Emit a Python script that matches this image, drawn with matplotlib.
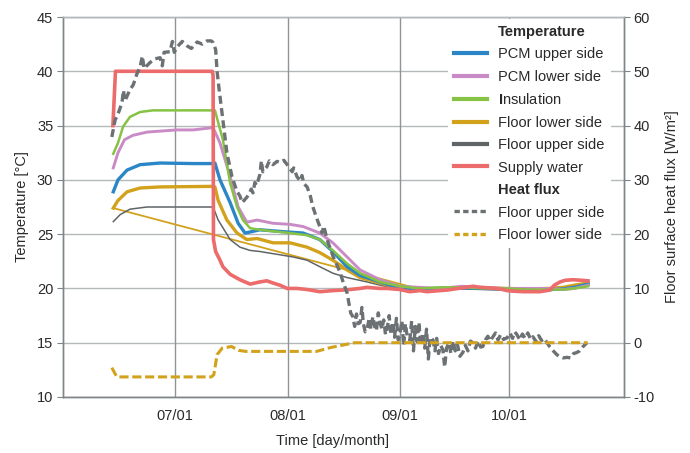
import matplotlib
matplotlib.use('Agg')
import matplotlib.pyplot as plt
from matplotlib.lines import Line2D

plt.rcParams['font.family'] = ['Liberation Sans', 'DejaVu Sans']
plt.rcParams['mathtext.fontset'] = 'custom'
plt.rcParams['mathtext.bf'] = 'Liberation Sans:bold'
plt.rcParams['mathtext.rm'] = 'Liberation Sans'
plt.rcParams['axes.unicode_minus'] = False

# ---- data (x = days since June 1) ----
month_ticks = [30, 61, 92, 122]
month_labels = ['07/01', '08/01', '09/01', '10/01']

supply_x = [12.9, 13.6, 40.3, 40.5, 40.6, 41.2, 42.4, 43.2, 45.2, 47.9, 50.7, 53.4, 55.3, 57.0,
            58.9, 60.9, 63.6, 66.4, 69.9, 73.5, 76.3, 78.2, 81.0, 82.9, 86.5, 88.4, 92.0, 94.7,
            97.5, 99.4, 101.1, 104.9, 108.0, 112.1, 114.0, 116.8, 119.5, 121.5, 123.1, 126.0,
            128.6, 130.5, 133.3, 134.5, 136.1, 137.5, 139.6, 142.0, 143.8]
supply_t = [35.0, 40.0, 40.0, 39.6, 24.5, 23.4, 22.6, 22.0, 21.3, 20.8, 20.4, 20.6, 20.7, 20.5,
            20.3, 20.0, 20.0, 19.9, 19.7, 19.8, 19.85, 19.9, 20.0, 20.1, 20.0, 20.0, 19.9, 19.7,
            19.8, 19.7, 19.75, 19.85, 20.0, 20.2, 20.1, 20.05, 19.95, 19.8, 19.75, 19.7,
            19.7, 19.7, 19.85, 20.3, 20.6, 20.75, 20.8, 20.75, 20.7]

insul_x = [13.0, 14.3, 15.7, 17.6, 20.4, 23.9, 30.0, 40.5, 41.0, 43.2, 45.2, 47.1, 48.7, 50.7,
           53.4, 58.9, 61.7, 66.4, 69.9, 73.5, 77.4, 81.0, 86.5, 92.0, 97.5, 103.0, 109.0,
           115.0, 121.0, 127.0, 133.0, 137.0, 140.0, 143.8]
insul_t = [32.4, 33.4, 34.9, 35.8, 36.25, 36.4, 36.4, 36.4, 36.4, 33.7, 29.7, 27.5, 26.3, 25.55,
           25.4, 25.2, 25.1, 24.9, 24.5, 23.5, 22.3, 21.4, 20.6, 20.2, 20.0, 20.1, 20.1,
           20.0, 20.0, 19.9, 19.9, 19.9, 20.0, 20.2]

pcm_low_x = [13.0, 14.3, 16.1, 18.4, 22.3, 30.5, 35.0, 40.2, 40.5, 42.4, 45.2, 47.4, 49.8, 52.6,
             57.0, 61.7, 65.3, 69.9, 73.5, 77.4, 81.0, 86.5, 92.0, 97.5, 103.0, 109.0, 115.0,
             121.0, 127.0, 133.0, 137.0, 140.0, 143.8]
pcm_low_t = [31.1, 32.5, 33.7, 34.1, 34.4, 34.6, 34.6, 34.8, 34.8, 33.4, 30.3, 27.5, 26.1, 26.3,
             26.0, 25.9, 25.7, 25.1, 24.2, 22.9, 21.7, 20.8, 20.2, 20.1, 20.0, 20.2, 20.1,
             20.0, 20.0, 20.0, 19.9, 20.0, 20.3]

pcm_up_x = [13.0, 14.3, 16.8, 20.4, 25.9, 35.0, 40.5, 41.0, 42.4, 45.2, 47.4, 49.3, 50.7, 53.4,
            60.9, 65.3, 69.9, 73.5, 77.4, 81.0, 86.5, 92.0, 97.5, 103.0, 109.0, 115.0, 121.0,
            127.0, 133.0, 137.0, 140.0, 143.8]
pcm_up_t = [28.9, 30.0, 30.9, 31.4, 31.55, 31.5, 31.5, 31.55, 30.0, 27.9, 26.0, 25.1, 25.2, 25.4,
            25.2, 25.1, 24.5, 23.4, 22.0, 21.2, 20.6, 20.0, 19.95, 20.0, 20.05, 20.0, 19.95,
            19.9, 19.9, 19.95, 20.1, 20.4]

floor_low_x = [13.0, 14.3, 16.8, 20.4, 25.9, 40.5, 41.0, 41.9, 44.3, 47.1, 49.8, 52.6, 57.0,
               61.7, 66.4, 69.9, 73.5, 77.4, 81.0, 86.5, 92.0, 97.5, 103.0, 109.0, 115.0,
               121.0, 127.0, 133.0, 137.0, 140.0, 143.8]
floor_low_t = [27.4, 28.1, 28.9, 29.25, 29.35, 29.4, 29.35, 28.1, 26.3, 25.1, 24.5, 24.6, 24.2,
               24.2, 23.8, 23.3, 22.6, 21.7, 21.0, 20.5, 20.0, 19.9, 19.95, 20.1, 20.05,
               20.0, 19.95, 20.0, 20.1, 20.3, 20.5]
floor_low_link_x = [13.0, 96.7]
floor_low_link_t = [27.4, 20.0]

floor_up_x = [13.0, 14.9, 17.6, 22.3, 27.8, 40.5, 41.9, 45.2, 47.9, 50.7, 53.4, 58.9, 62.5, 66.4,
              69.9, 73.5, 77.4, 82.9, 86.5, 92.0, 97.5, 103.0, 109.0, 115.0, 121.0, 127.0,
              133.0, 137.0, 140.0, 143.8]
floor_up_t = [26.15, 26.8, 27.3, 27.5, 27.5, 27.5, 26.3, 24.5, 23.8, 23.5, 23.4, 23.1, 22.9, 22.6,
              22.0, 21.4, 21.0, 20.6, 20.3, 19.95, 19.8, 19.9, 19.95, 19.9, 19.85, 19.85,
              19.8, 19.9, 20.1, 20.3]

flux_up_x = [12.6, 13.5, 14.5, 15.4, 15.8, 16.2, 17.5, 18.5, 19.5, 20.4, 21.0, 21.5, 23.1, 24.5,
             25.9, 26.5, 27.0, 28.6, 29.3, 29.8, 30.6, 32.0, 33.3, 34.5, 36.1, 37.5, 38.8, 40.0,
             40.5, 41.2, 41.6, 42.1, 43.2, 44.3, 45.7, 47.0, 47.9, 48.5, 49.8, 50.5, 51.0, 51.5,
             52.0, 52.5, 53.4, 53.8, 54.2, 55.3, 56.0, 57.0, 58.1, 59.0, 60.0, 60.9, 61.7, 62.3,
             62.7, 63.6, 64.5, 65.0, 65.5, 66.4, 67.3, 68.0, 69.0, 69.9, 70.5, 71.0, 71.9, 72.7,
             73.5, 74.5, 75.5, 76.4, 77.4, 78.0, 78.4, 79.0, 79.5, 80.0, 80.5, 81.0, 81.5, 81.9,
             82.4, 82.9, 83.5, 84.0, 84.5, 85.0, 85.5, 86.0, 86.5, 87.0, 87.5, 88.0, 88.4, 89.0,
             89.5, 90.0, 90.5, 91.0, 91.5, 92.0, 92.5, 93.0, 93.5, 94.0, 94.7, 95.2, 95.7, 96.2,
             96.7, 97.2, 97.7, 98.3, 98.8, 99.3, 99.8, 100.3, 101.1, 101.6, 102.1, 102.6, 103.2,
             103.8, 104.3, 104.8, 105.5, 106.0, 106.6, 107.2, 107.8, 108.5, 109.3, 110.0, 110.7,
             111.4, 112.1, 112.8, 113.5, 114.2, 114.8, 115.5, 116.2, 116.8, 117.6, 118.3, 119.0,
             119.7, 120.5, 121.5, 122.3, 123.0, 123.6, 124.2, 125.0, 125.7, 126.5, 127.2, 128.0,
             128.6, 129.5, 130.2, 131.0, 131.7, 132.5, 133.3, 134.2, 135.2, 136.0, 137.0, 138.0,
             139.0, 139.8, 140.7, 141.5, 142.3, 143.5]
flux_up_q = [37.9, 41.0, 42.5, 44.2, 46.5, 44.5, 46.5, 47.5, 49.5, 50.8, 52.8, 50.5, 51.6, 52.3,
             52.5, 51.0, 53.5, 53.6, 55.5, 53.5, 54.5, 55.5, 54.7, 54.2, 55.4, 55.0, 55.6, 55.6,
             55.3, 54.0, 50.0, 47.0, 41.0, 35.0, 30.6, 28.0, 27.0, 25.8, 26.8, 27.5, 28.3, 27.6,
             29.5, 29.0, 31.0, 33.5, 31.5, 32.4, 33.5, 32.8, 33.4, 33.2, 33.6, 32.8, 32.0, 31.5,
             32.2, 30.6, 29.8, 30.8, 29.3, 28.7, 27.0, 25.0, 23.0, 21.4, 20.2, 21.5, 19.0, 17.5,
             16.0, 14.5, 12.9, 11.0, 9.2, 7.0, 5.5, 4.8, 3.0, 5.3, 3.5, 3.7, 6.5, 3.5,
             2.0, 2.4, 4.5, 2.5, 4.8, 3.0, 2.2, 5.5, 3.7, 2.5, 4.2, 1.5, 2.4, 5.0,
             1.5, 3.8, 1.0, 4.5, 0.5, 1.8, 4.0, -0.5, 3.5, 1.0, 0.5, 4.0, -1.5, 3.0,
             0.2, 3.8, -0.5, 1.8, -1.0, 2.5, -3.0, 1.0, 0.5, -1.5, 0.8, -2.0, -0.5,
             -1.3, -4.5, -1.0, 0.0, -2.0, 0.3, -1.5, -0.3, -2.5, -1.8, -0.5, -1.5,
             0.3, 0.0, -1.0, 0.3, -0.8, -0.7, 0.5, 1.2, 0.3, 1.1, 1.8, 0.5,
             1.5, 0.6, 0.9, 1.8, 0.8, 2.0, 1.5, 0.5, 1.6, 0.8, 1.8, 0.6,
             1.1, 0.2, 1.3, 0.4, 0.8, 0.0, -0.8, -1.5, -2.2, -2.6, -2.8, -2.7,
             -2.8, -2.0, -1.8, -1.5, -0.8, 0.0]

flux_low_x = [12.6, 13.9, 14.5, 40.0, 40.7, 41.6, 43.0, 45.6, 47.5, 49.5, 69.0, 72.8, 76.5, 79.5,
              143.7]
flux_low_q = [-4.6, -6.2, -6.3, -6.3, -5.9, -2.2, -1.0, -0.7, -1.4, -1.6, -1.6, -0.9, -0.4, 0.0,
              0.0]

# ---- styles ----
C_BLUE = '#2a86c6'
C_PINK = '#c98bc6'
C_GREEN = '#86c244'
C_GOLD = '#d3a21d'
C_GREY = '#5f6567'
C_RED = '#ec6b6b'
C_FLUX = '#6c7174'
TXT = '#2a2a2a'
GRID_H = '#b4b8ba'
GRID_V = '#8e9497'
SPINE = '#7e8588'

fig = plt.figure(figsize=(6.9, 4.53), dpi=100)
ax = fig.add_axes([63 / 690, 1 - 397 / 453, 561 / 690, 380 / 453])
ax2 = ax.twinx()

ax.set_xlim(-0.85, 153.7)
ax.set_ylim(10, 45)
ax2.set_ylim(-10, 60)
ax.set_yticks(range(10, 46, 5))
ax2.set_yticks(range(-10, 61, 10))
ax.set_xticks(month_ticks)
ax.set_xticklabels(month_labels)

for y in range(10, 46, 5):
    ax.axhline(y, color=GRID_H, lw=1.0, zorder=0)
for x in month_ticks:
    ax.axvline(x, color=GRID_V, lw=1.0, zorder=0)

# temperatures
ax.plot(floor_low_link_x, floor_low_link_t, color=C_GOLD, lw=1.3, zorder=3)
ax.plot(floor_up_x, floor_up_t, color=C_GREY, lw=1.1, zorder=3)
ax.plot(floor_low_x, floor_low_t, color=C_GOLD, lw=2.4, zorder=4)
ax.plot(pcm_up_x, pcm_up_t, color=C_BLUE, lw=2.4, zorder=5)
ax.plot(insul_x, insul_t, color=C_GREEN, lw=1.8, zorder=6)
ax.plot(pcm_low_x, pcm_low_t, color=C_PINK, lw=2.1, zorder=5)
ax.plot(supply_x, supply_t, color=C_RED, lw=2.6, zorder=7)

# heat flux
ax2.plot(flux_up_x, flux_up_q, color=C_FLUX, lw=2.4, dashes=(2.4, 1.3))
ax2.plot(flux_low_x, flux_low_q, color=C_GOLD, lw=2.2, dashes=(3.0, 1.2))

for a in (ax, ax2):
    for s in a.spines.values():
        s.set_color(SPINE)
        s.set_linewidth(1.0)
    a.spines['top'].set_color(GRID_H)
ax.tick_params(axis='y', direction='out', length=4, color=SPINE, labelsize=10.5,
               labelcolor=TXT, pad=3)
ax.tick_params(axis='x', length=0, labelsize=10.5, labelcolor=TXT, pad=9)
ax2.tick_params(axis='y', direction='out', length=4, color=SPINE, labelsize=10.5,
                labelcolor=TXT, pad=3)

fig.text(22 / 690, 1 - 207 / 453, 'Temperature [°C]', rotation=90, ha='center', va='center',
         fontsize=10.5, color=TXT)
fig.text(672 / 690, 1 - 207 / 453, 'Floor surface heat flux [W/m²]', rotation=90, ha='center',
         va='center', fontsize=10.5, color=TXT)
fig.text(332 / 690, 1 - 441 / 453, 'Time [day/month]', ha='center', va='center',
         fontsize=10.5, color=TXT)

blank = Line2D([], [], color='none')
handles = [blank,
           Line2D([], [], color=C_BLUE, lw=3),
           Line2D([], [], color=C_PINK, lw=3),
           Line2D([], [], color=C_GREEN, lw=3),
           Line2D([], [], color=C_GOLD, lw=3),
           Line2D([], [], color=C_GREY, lw=3),
           Line2D([], [], color=C_RED, lw=3),
           blank,
           Line2D([], [], color=C_FLUX, lw=2.4, dashes=(1.6, 1.0)),
           Line2D([], [], color=C_GOLD, lw=2.4, dashes=(1.6, 1.0))]
labels = ['Temperature', 'PCM upper side', 'PCM lower side', r'$\mathbf{I}$nsulation',
          'Floor lower side', 'Floor upper side', 'Supply water', 'Heat flux',
          'Floor upper side', 'Floor lower side']
leg = ax2.legend(handles, labels, loc='upper left',
                 bbox_to_anchor=((448 - 63) / 561, (397 - 19) / 380),
                 frameon=True, framealpha=1.0, facecolor='white', edgecolor='none',
                 fancybox=False, fontsize=10.5, handlelength=2.3, handletextpad=0.75,
                 labelspacing=0.58, borderpad=0.4, borderaxespad=0)
for i, t in enumerate(leg.get_texts()):
    t.set_color(TXT)
    if i in (0, 7):
        t.set_fontweight('bold')

fig.savefig('out.png', dpi=100)
